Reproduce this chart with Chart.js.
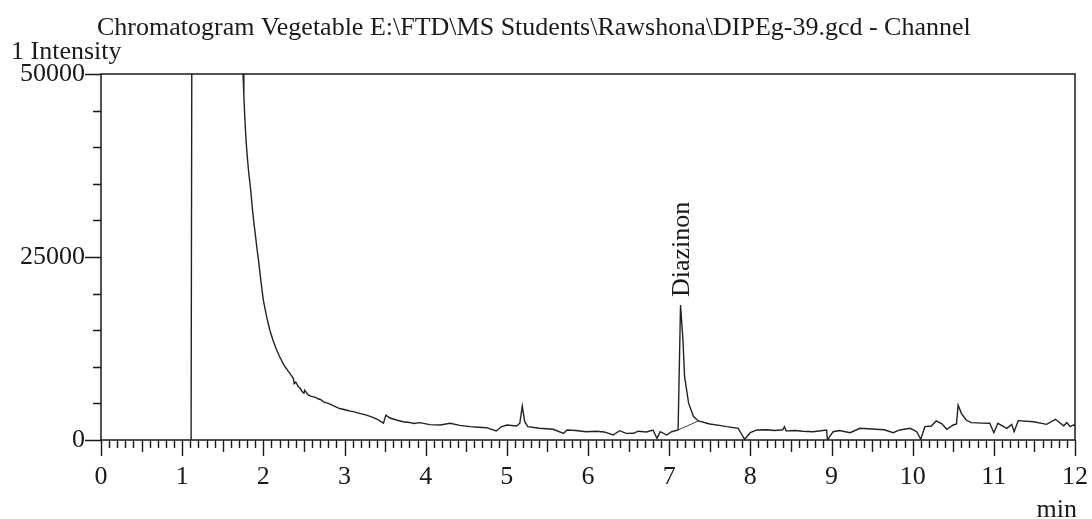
<!DOCTYPE html>
<html>
<head>
<meta charset="utf-8">
<script src="https://cdn.jsdelivr.net/npm/chart.js@4/dist/chart.umd.min.js"></script>
<style>
  html, body { margin: 0; padding: 0; background: #fff; }
  #wrap { width: 1092px; height: 519px; position: relative; }
</style>
</head>
<body>
<div id="wrap"><canvas id="chromChart"></canvas></div>
<script>
// retention time (min) and detector intensity
var timeMin = [
  1.11, 1.12, 1.125, 1.745, 1.75, 1.76, 1.77, 1.78, 1.79, 1.80, 1.82, 1.84, 1.86, 1.88, 1.90, 1.92,
  1.94, 1.97, 2.00, 2.04, 2.08, 2.12, 2.16, 2.20, 2.25, 2.30, 2.34, 2.37, 2.38, 2.40, 2.43, 2.45,
  2.48, 2.50, 2.51, 2.55, 2.58, 2.62, 2.65, 2.68, 2.71, 2.74, 2.80, 2.84, 2.88, 2.94, 2.98, 3.02,
  3.07, 3.11, 3.16, 3.20, 3.27, 3.35, 3.41, 3.45, 3.48, 3.51, 3.56, 3.64, 3.72, 3.80, 3.85, 3.93,
  4.05, 4.18, 4.30, 4.42, 4.55, 4.65, 4.75, 4.87, 4.93, 5.00, 5.12, 5.16, 5.19, 5.22, 5.26, 5.40,
  5.57, 5.70, 5.74, 5.85, 5.98, 6.10, 6.20, 6.31, 6.39, 6.47, 6.56, 6.62, 6.72, 6.80, 6.85, 6.89,
  6.97, 7.03, 7.11, 7.14, 7.17, 7.19, 7.24, 7.30, 7.36, 7.50, 7.62, 7.71, 7.85, 7.93, 8.00, 8.08,
  8.20, 8.30, 8.40, 8.42, 8.44, 8.55, 8.65, 8.77, 8.94, 8.95, 9.02, 9.10, 9.23, 9.35, 9.50, 9.65,
  9.76, 9.84, 9.97, 10.05, 10.10, 10.15, 10.23, 10.29, 10.36, 10.42, 10.50, 10.54, 10.56, 10.60, 10.66, 10.72,
  10.85, 10.95, 11.00, 11.05, 11.16, 11.22, 11.25, 11.30, 11.49, 11.65, 11.76, 11.86, 11.90, 11.94, 11.98, 12.00
];
var intensity = [
  0, 0, 90000, 90000, 50000, 47000, 44500, 42300, 40500, 39000, 36500, 34600, 32200, 30000, 28200, 26300,
  24600, 21700, 19100, 16900, 15000, 13600, 12400, 11400, 10300, 9500, 8900, 8400, 7700, 7900, 7300, 7100,
  6600, 6400, 6800, 6200, 6000, 5900, 5800, 5600, 5500, 5200, 5000, 4800, 4600, 4300, 4200, 4100,
  3950, 3870, 3700, 3600, 3400, 3100, 2800, 2500, 2300, 3400, 3000, 2730, 2500, 2400, 2250, 2370,
  2100, 2050, 2280, 2000, 1820, 1750, 1680, 1230, 1800, 2050, 1910, 2300, 4640, 2500, 1820, 1600,
  1460, 900, 1370, 1300, 1130, 1200, 1100, 680, 1270, 900, 915, 1200, 1100, 1370, 230, 1130,
  680, 1130, 1370, 18440, 13660, 8650, 5000, 3200, 2600, 2190, 2000, 1820, 1600, 100, 1000, 1370,
  1400, 1300, 1400, 1820, 1250, 1300, 1200, 1130, 1370, 0, 1130, 1300, 1000, 1600, 1500, 1400,
  1000, 1370, 1600, 1130, 100, 1820, 1910, 2600, 2200, 1460, 2050, 2200, 4780, 3640, 2730, 2370,
  2300, 2280, 1000, 2280, 1600, 2140, 1130, 2640, 2500, 2140, 2830, 1950, 2370, 1820, 2050, 2000
];

// integration baseline under the Diazinon peak
var baselineTime = [7.11, 7.36];
var baselineIntensity = [1370, 2600];

// peak annotation
var peakNames = ['Diazinon'];
var peakTimes = [7.14];
var peakHeights = [18440];

var yMajor = [0, 25000, 50000];

var serif = '"Liberation Serif", "Times New Roman", serif';
var ink = '#1a1a1a';
var clear = 'rgba(0,0,0,0)';

function toPoints(xs, ys) {
  var pts = [];
  for (var i = 0; i < xs.length; i++) pts.push({ x: xs[i], y: ys[i] });
  return pts;
}

// frame, minor ticks and free text
var decor = {
  id: 'decor',
  afterDraw: function(chart) {
    var ctx = chart.ctx;
    var a = chart.chartArea;
    var xs = chart.scales.x;
    var ys = chart.scales.y;
    ctx.save();
    ctx.strokeStyle = ink;
    ctx.lineWidth = 1.5;
    ctx.strokeRect(a.left, a.top, a.right - a.left, a.bottom - a.top);

    // x ticks every 0.1 min, longer at half and whole minutes
    ctx.lineWidth = 1.4;
    ctx.beginPath();
    for (var i = 0; i <= 120; i++) {
      var px = Math.round(xs.getPixelForValue(i / 10)) + 0.5;
      var len = (i % 10 === 0) ? 16 : (i % 5 === 0 ? 12 : 8);
      ctx.moveTo(px, a.bottom);
      ctx.lineTo(px, a.bottom + len);
    }
    // y ticks every 5000, longer at labelled values
    for (var v = 0; v <= 50000; v += 5000) {
      var py = Math.round(ys.getPixelForValue(v)) + 0.5;
      var ylen = yMajor.indexOf(v) >= 0 ? 16 : 8;
      ctx.moveTo(a.left, py);
      ctx.lineTo(a.left - ylen, py);
    }
    ctx.stroke();

    ctx.fillStyle = ink;
    ctx.font = '26px ' + serif;
    ctx.textBaseline = 'middle';
    ctx.textAlign = 'left';
    ctx.fillText('Chromatogram Vegetable E:\\FTD\\MS Students\\Rawshona\\DIPEg-39.gcd - Channel', 97, 28);
    ctx.fillText('1 Intensity', 11, 52);
    ctx.textAlign = 'right';
    ctx.fillText('min', 1077, 510);

    // peak names, rotated, sitting on the apex
    for (var k = 0; k < peakNames.length; k++) {
      var lx = xs.getPixelForValue(peakTimes[k]);
      var ly = ys.getPixelForValue(peakHeights[k]) - 8;
      ctx.save();
      ctx.translate(lx + 2, ly);
      ctx.rotate(-Math.PI / 2);
      ctx.textAlign = 'left';
      ctx.fillText(peakNames[k], 0, 0);
      ctx.restore();
    }
    ctx.restore();
  }
};

new Chart(document.getElementById('chromChart'), {
  type: 'line',
  data: {
    datasets: [
      {
        data: toPoints(timeMin, intensity),
        borderColor: '#222',
        borderWidth: 1.4,
        pointRadius: 0,
        tension: 0,
        fill: false
      },
      {
        data: toPoints(baselineTime, baselineIntensity),
        borderColor: '#444',
        borderWidth: 1,
        pointRadius: 0,
        fill: false
      }
    ]
  },
  options: {
    responsive: true,
    maintainAspectRatio: false,
    animation: false,
    events: [],
    layout: { padding: { left: 0, right: 17, top: 74, bottom: 0 } },
    plugins: {
      legend: { display: false },
      title: { display: false },
      tooltip: { enabled: false }
    },
    scales: {
      x: {
        type: 'linear',
        min: 0,
        max: 12,
        afterFit: function(scale) { scale.height = 79; },
        ticks: {
          stepSize: 1,
          color: ink,
          padding: 2,
          maxRotation: 0,
          font: { family: serif, size: 26 }
        },
        grid: { drawOnChartArea: false, drawTicks: true, tickLength: 20, tickColor: clear },
        border: { display: false }
      },
      y: {
        min: 0,
        max: 50000,
        afterFit: function(scale) { scale.width = 101; },
        afterBuildTicks: function(scale) {
          scale.ticks = yMajor.map(function(v) { return { value: v }; });
        },
        ticks: {
          color: ink,
          padding: 2,
          font: { family: serif, size: 26 },
          callback: function(v) { return String(v); }
        },
        grid: { drawOnChartArea: false, drawTicks: true, tickLength: 14, tickColor: clear },
        border: { display: false }
      }
    }
  },
  plugins: [decor]
});
</script>
</body>
</html>
